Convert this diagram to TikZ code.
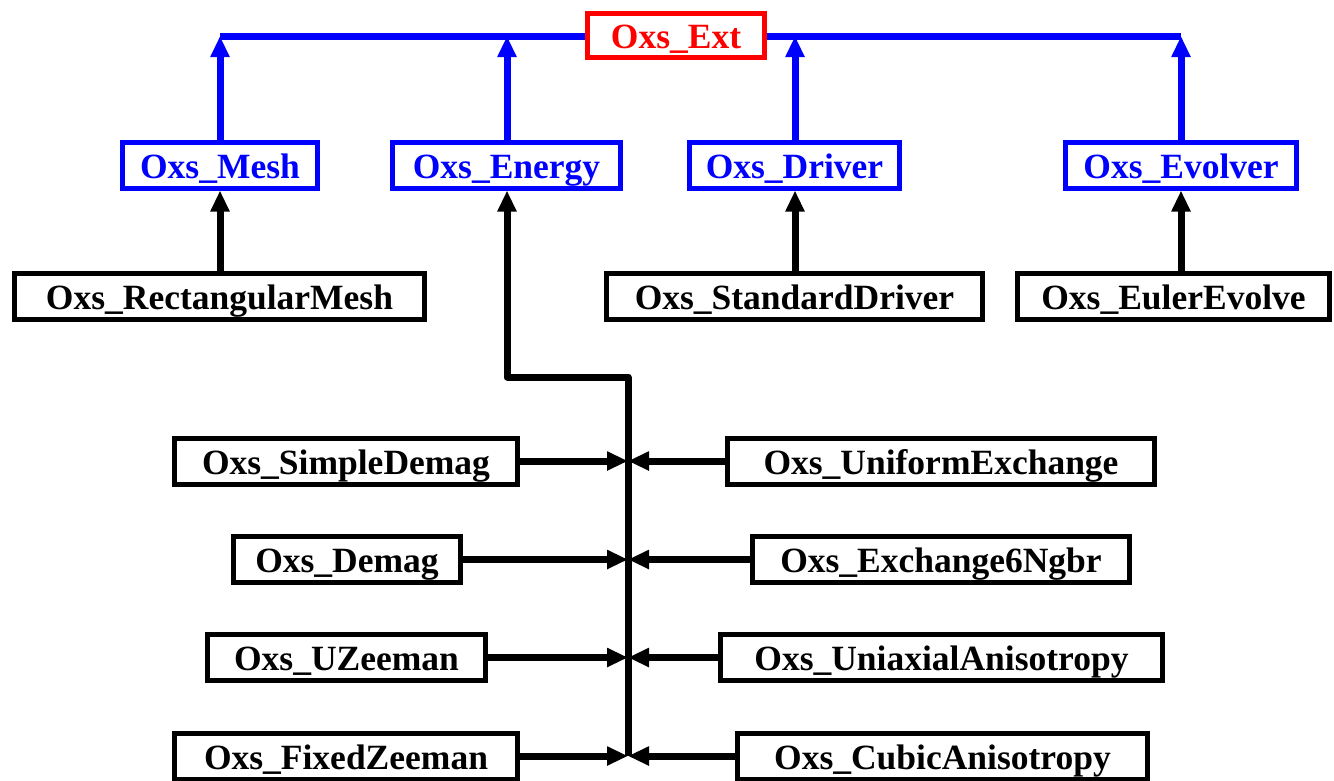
\documentclass[tikz,border=0pt]{standalone}
\usepackage{fontspec}
\setmainfont{Liberation Serif}
\usetikzlibrary{arrows.meta}
\definecolor{pblue}{RGB}{0,0,255}
\definecolor{pred}{RGB}{255,0,0}
\tikzset{
  box/.style={draw, line width=5pt, fill=white, inner sep=0pt, minimum height=46pt,
    text height=26pt, text depth=0pt,
    font=\fontsize{35.5}{40}\selectfont\bfseries},
  bluebox/.style={box, draw=pblue, text=pblue},
  redbox/.style={box, draw=pred, text=pred},
  blackbox/.style={box, draw=black, text=black},
  conn/.style={line width=7pt, -{Triangle[length=21pt,width=18pt]}},
  blueconn/.style={conn, draw=pblue},
  blackconn/.style={conn, draw=black},
  plainblue/.style={line width=7pt, draw=pblue},
}
\begin{document}
\begin{tikzpicture}[x=1pt,y=-1pt]
\useasboundingbox (0,0) rectangle (1334,780);
% top level
\coordinate (t1) at (220,36);
\coordinate (t2) at (507,36);
\coordinate (t3) at (795,36);
\coordinate (t4) at (1181,36);
\draw[plainblue] (t1) -- (t4);
\node[redbox, minimum width=177pt, minimum height=44pt] (ext) at (676,35.5) {Oxs\_Ext};
% second level
\node[bluebox, minimum width=195pt] (mesh) at (220,165) {Oxs\_Mesh};
\node[bluebox, minimum width=228pt] (energy) at (506.5,165) {Oxs\_Energy};
\node[bluebox, minimum width=210pt] (driver) at (794.5,165) {Oxs\_Driver};
\node[bluebox, minimum width=231pt] (evolver) at (1181,165) {Oxs\_Evolver};
\draw[blueconn] (mesh.north -| t1) -- (t1);
\draw[blueconn] (energy.north -| t2) -- (t2);
\draw[blueconn] (driver.north -| t3) -- (t3);
\draw[blueconn] (evolver.north -| t4) -- (t4);
% third level
\node[blackbox, minimum width=410pt] (rmesh) at (219.5,296) {Oxs\_RectangularMesh};
\node[blackbox, minimum width=376pt] (sdriver) at (794.5,296) {Oxs\_StandardDriver};
\node[blackbox, minimum width=312pt] (euler) at (1173.5,296) {Oxs\_EulerEvolve};
\draw[blackconn] (rmesh.north -| mesh.south) -- (mesh.south);
\draw[blackconn] (sdriver.north -| t3) -- (driver.south -| t3);
\draw[blackconn] (euler.north -| t4) -- (evolver.south -| t4);
% energy terms
\coordinate (jt) at (628,377);
\coordinate (j1) at (628,461);
\coordinate (j2) at (628,559.5);
\coordinate (j3) at (628,657.5);
\coordinate (j4) at (628,756);
\draw[blackconn, line join=round] (j4) -- (jt) -| (energy.south -| t2);
\node[blackbox, minimum width=343pt] (sdemag) at (346,461) {Oxs\_SimpleDemag};
\node[blackbox, minimum width=227pt] (demag) at (347,559.5) {Oxs\_Demag};
\node[blackbox, minimum width=278pt] (uzee) at (346.5,657.5) {Oxs\_UZeeman};
\node[blackbox, minimum width=343pt] (fzee) at (346,756) {Oxs\_FixedZeeman};
\node[blackbox, minimum width=427pt] (uex) at (941,461) {Oxs\_UniformExchange};
\node[blackbox, minimum width=377pt] (ex6) at (941,559.5) {Oxs\_Exchange6Ngbr};
\node[blackbox, minimum width=442pt] (uani) at (941.5,657.5) {Oxs\_UniaxialAnisotropy};
\node[blackbox, minimum width=410pt] (cani) at (942.5,756) {Oxs\_CubicAnisotropy};
\draw[blackconn] (sdemag.east) -- (j1);
\draw[blackconn] (demag.east) -- (j2);
\draw[blackconn] (uzee.east) -- (j3);
\draw[blackconn] (fzee.east) -- (j4);
\draw[blackconn] (uex.west) -- (j1);
\draw[blackconn] (ex6.west) -- (j2);
\draw[blackconn] (uani.west) -- (j3);
\draw[blackconn] (cani.west) -- (j4);
\end{tikzpicture}
\end{document}
